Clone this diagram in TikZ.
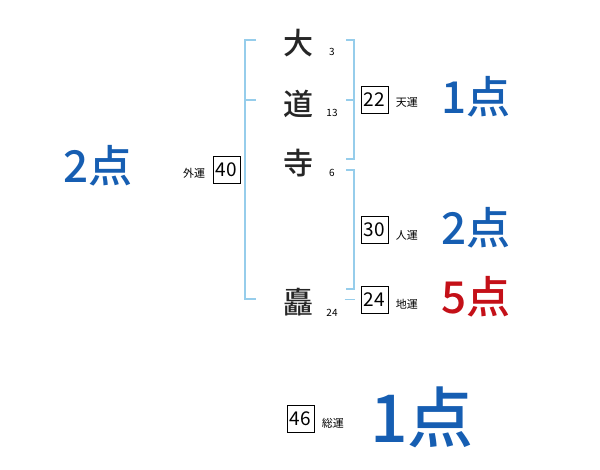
\documentclass[tikz,border=0pt]{standalone}
\usepackage{fontspec}
\setmainfont{Noto Sans CJK JP}[BoldFont={Noto Sans CJK JP Bold}]
\newfontfamily\medfont{Noto Sans CJK JP Medium}
\usetikzlibrary{positioning}
\definecolor{scoreblue}{RGB}{22,94,178}
\definecolor{scorered}{RGB}{196,16,24}
\definecolor{bracketblue}{RGB}{150,205,235}

\begin{document}
\begin{tikzpicture}[x=1pt,y=-1pt,
  kanji/.style={font=\fontsize{30}{30}\selectfont\medfont,text=black!85},
  kakusu/.style={font=\fontsize{10}{10}\selectfont},
  unbox/.style={draw,line width=0.8pt,minimum width=27pt,minimum height=27pt,inner sep=0pt,font=\fontsize{19}{19}\selectfont},
  unlabel/.style={font=\fontsize{11}{11}\selectfont},
  score/.style={font=\fontsize{44}{44}\selectfont\medfont,text=scoreblue},
  bracket/.style={bracketblue,line width=1.5pt}]
  \useasboundingbox (0,0) rectangle (600,470);

  % name
  \node[kanji] (dai) at (298,43) {大};
  \node[kanji] (michi) at (298,104) {道};
  \node[kanji] (tera) at (298,163) {寺};
  \node[kanji] (todoroki) at (298,302) {矗};
  \node[kakusu] (kdai) at (332,52) {3};
  \node[kakusu] (kmichi) at (332,113) {13};
  \node[kakusu] (ktera) at (332,173) {6};
  \node[kakusu] (ktodoroki) at (332,313) {24};

  % brackets
  \draw[bracket] (256,40) -- (245,40) -- (245,299) -- (256,299);
  \draw[bracket] (245,100) -- (256,100);
  \draw[bracket] (346,40) -- (354,40) -- (354,159) -- (346,159);
  \draw[bracket] (346,100) -- (354,100);
  \draw[bracket] (346,170) -- (354,170) -- (354,289) -- (346,289);

  % boxes
  \node[unbox] (ten) at (374.5,100) {22};
  \node[unbox] (jin) at (374.5,230) {30};
  \node[unbox] (chi) at (374.5,299.5) {24};
  \node[unbox] (gai) at (226.5,170) {40};
  \node[unbox] (so) at (300.5,419) {46};
  \draw[bracket] ([xshift=-16pt]chi.west) -- ([xshift=-6pt]chi.west);

  \node[unlabel,right=4pt of ten,yshift=-2pt] (lten) {天運};
  \node[unlabel,right=4pt of jin,yshift=-5pt] (ljin) {人運};
  \node[unlabel,right=4pt of chi,yshift=-5pt] (lchi) {地運};
  \node[unlabel,left=4pt of gai,yshift=-3pt] (lgai) {外運};
  \node[unlabel,right=4pt of so,yshift=-4pt] (lso) {総運};

  % scores
  \node[score] (pten) at (476,97) {1点};
  \node[score] (pjin) at (476,228) {2点};
  \node[score,text=scorered] (pchi) at (476,297) {5点};
  \node[score] (pgai) at (98,166) {2点};
  \node[score,font=\fontsize{66}{66}\selectfont\medfont] (pso) at (422,417) {1点};
\end{tikzpicture}
\end{document}
